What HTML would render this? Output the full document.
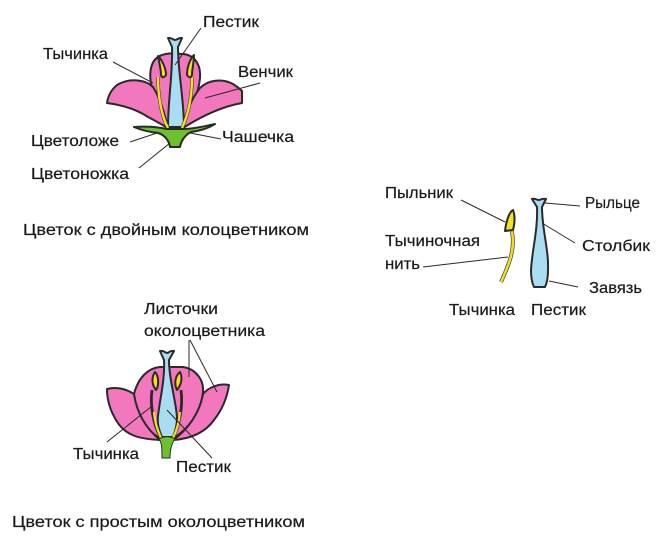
<!DOCTYPE html>
<html lang="ru">
<head>
<meta charset="utf-8">
<style>
html,body{margin:0;padding:0;background:#fff;width:669px;height:544px;overflow:hidden}
svg{display:block}
text{font-family:"Liberation Sans",sans-serif;font-size:15.5px;fill:#1a1a1a;stroke:#1a1a1a;stroke-width:.2px}
.o{stroke:#2a2a2a;stroke-width:2;stroke-linejoin:round}
.p{fill:#f277bd}
.b{fill:#aadcf2}
.y{fill:#f5e020}
.g{fill:#6cc12c}
.l{stroke:#2a2a2a;stroke-width:1;fill:none}
.art{filter:blur(.35px)}
</style>
</head>
<body>
<svg width="669" height="544" viewBox="0 0 669 544" xmlns="http://www.w3.org/2000/svg">
<g class="art">
<!-- Flower 1 -->
<path class="o p" d="M156 100C148 82 147 60 162 55C170 52 178 54 184 54C196 56 201 66 200 78C199 90 195 98 190 112L183 128L168 128Z"/>
<path class="p" d="M160 100L190 100L184 128L167 128Z"/>
<path class="o p" d="M168 128C164 112 160 98 153 87C145 79 128 78 117 85C111 90 108 96 107 103C122 105 136 109 148 117C156 121 162 125 168 128Z"/>
<path class="o p" d="M183 128C186 112 192 98 200 88C208 80 222 78 233 84C238 87 240 89 242 91L242 103C225 106 205 114 183 128Z"/>
<path class="o b" d="M168 38C171 37 173 40 175 40C177 40 180 37 182 38L178 47C178 72 184 100 184 127L168 127C168 100 173 72 172 47Z"/>
<path d="M158 77C158 95 161 115 168 128" fill="none" stroke="#2a2a2a" stroke-width="3.400"/>
<path d="M158 77C158 95 161 115 168 128" fill="none" stroke="#f5e020" stroke-width="2.400"/>
<path d="M192 77C192 98 188 115 182 128" fill="none" stroke="#2a2a2a" stroke-width="3.400"/>
<path d="M192 77C192 98 188 115 182 128" fill="none" stroke="#f5e020" stroke-width="2.400"/>
<path class="o g" stroke-width="1.500" d="M134 127C148 126 158 127 167 129L183 129C195 129 205 126 215 124C207 129 199 131 191 132C185 135 181 141 180 147L170 147C169 141 165 135 158 133C149 132 141 130 134 127Z"/>
<path class="o y" stroke-width="1.200" d="M158 56C162 60 166 68 166 75C164 78 162 78 161 75C161 69 159 62 158 56Z"/>
<path class="o y" stroke-width="1.200" d="M194 55C190 59 187 67 187 75C189 78 191 78 192 75C192 69 194 62 194 55Z"/>
<g class="l">
<path d="M201 28L175 65"/><path d="M113 62L153 83"/><path d="M260 83L205 98"/>
<path d="M130 142L157 133"/><path d="M221 139L190 133"/><path d="M139 168L170 143"/>
</g>
<!-- Flower 2 -->
<path class="o p" d="M160 438C145 430 128 412 134 394C138 378 148 368 160 367L183 367C196 369 204 380 203 392C201 412 188 430 173 438Z"/>
<path class="o p" d="M160 440C140 439 125 436 116 420C110 410 107 400 107 389C118 386 128 390 134 394C137 415 148 430 160 440Z"/>
<path class="o p" d="M173 440C188 439 204 434 214 420C222 410 227 398 229 385C218 383 208 388 203 394C200 412 188 430 173 440Z"/>
<path class="o b" d="M160 351C164 350 165 353 167 353C169 353 170 350 174 351L169 360C169 380 176 400 177 418C177 426 175 432 173 437L162 437C159 430 157 424 158 416C160 398 165 380 164 360Z"/>
<path d="M152 390C150 405 153 425 161 438" fill="none" stroke="#2a2a2a" stroke-width="2.800"/>
<path d="M154 412C155 424 158 431 161 438" fill="none" stroke="#f5e020" stroke-width="2.200"/>
<path d="M181 390C183 405 180 425 173 438" fill="none" stroke="#2a2a2a" stroke-width="2.800"/>
<path d="M180 412C179 424 176 432 173 438" fill="none" stroke="#f5e020" stroke-width="2.200"/>
<path class="g" stroke="#2a2a2a" stroke-width="1" d="M159 439C163 436 171 436 175 439C172 443 170 449 170 458L162 458C162 449 162 443 159 439Z"/>
<path class="o y" stroke-width="1.200" d="M155 372C151 378 152 385 156 390C159 386 159 376 155 372Z"/>
<path class="o y" stroke-width="1.200" d="M180 372C175 376 174 384 177 390C181 385 183 378 180 372Z"/>
<g class="l">
<path d="M189 340L189 377"/><path d="M190 340L217 392"/>
<path d="M107 442L152 406"/><path d="M212 458L167 410"/>
</g>
<!-- Stamen and pistil -->
<path d="M512 231C515 250 510 262 501 282" fill="none" stroke="#2a2a2a" stroke-width="3.800"/>
<path d="M512 231C515 250 510 262 501 282" fill="none" stroke="#f0dc25" stroke-width="2.600"/>
<path class="o y" stroke-width="1.400" d="M513 210C509 212 506 222 505 231L513 230C515 222 515 215 513 210Z"/>
<path class="o b" d="M532 199C535 198 537 200 538.500 200C540 200 543 198 546 199L542 207C542 230 549 250 548 270C548 278 547 283 545 287L534 287C532 283 531 277 531 270C532 250 538 230 537 207Z"/>
<g class="l">
<path d="M461 200L505 222"/><path d="M423 267L508 257"/><path d="M545 203L580 206"/>
<path d="M542 223L575 243"/><path d="M549 281L578 287"/>
</g>
</g>
<!-- Labels -->
<text x="203" y="27" textLength="56" lengthAdjust="spacingAndGlyphs">Пестик</text>
<text x="43" y="59" textLength="65" lengthAdjust="spacingAndGlyphs">Тычинка</text>
<text x="238" y="77" textLength="55" lengthAdjust="spacingAndGlyphs">Венчик</text>
<text x="31" y="146" textLength="88" lengthAdjust="spacingAndGlyphs">Цветоложе</text>
<text x="222" y="142" textLength="72" lengthAdjust="spacingAndGlyphs">Чашечка</text>
<text x="31" y="179" textLength="98" lengthAdjust="spacingAndGlyphs">Цветоножка</text>
<text x="23" y="235" textLength="286" lengthAdjust="spacingAndGlyphs">Цветок с двойным колоцветником</text>
<text x="385" y="198" textLength="68" lengthAdjust="spacingAndGlyphs">Пыльник</text>
<text x="385" y="246" textLength="95" lengthAdjust="spacingAndGlyphs">Тычиночная</text>
<text x="385" y="269" textLength="35" lengthAdjust="spacingAndGlyphs">нить</text>
<text x="449" y="315" textLength="66" lengthAdjust="spacingAndGlyphs">Тычинка</text>
<text x="531" y="315" textLength="55" lengthAdjust="spacingAndGlyphs">Пестик</text>
<text x="585" y="208" textLength="55" lengthAdjust="spacingAndGlyphs">Рыльце</text>
<text x="582" y="251" textLength="68" lengthAdjust="spacingAndGlyphs">Столбик</text>
<text x="589" y="293" textLength="53" lengthAdjust="spacingAndGlyphs">Завязь</text>
<text x="144" y="314" textLength="74" lengthAdjust="spacingAndGlyphs">Листочки</text>
<text x="144" y="336" textLength="121" lengthAdjust="spacingAndGlyphs">околоцветника</text>
<text x="73" y="459" textLength="66" lengthAdjust="spacingAndGlyphs">Тычинка</text>
<text x="176" y="472" textLength="55" lengthAdjust="spacingAndGlyphs">Пестик</text>
<text x="12" y="527" textLength="293" lengthAdjust="spacingAndGlyphs">Цветок с простым околоцветником</text>
</svg>
</body>
</html>
